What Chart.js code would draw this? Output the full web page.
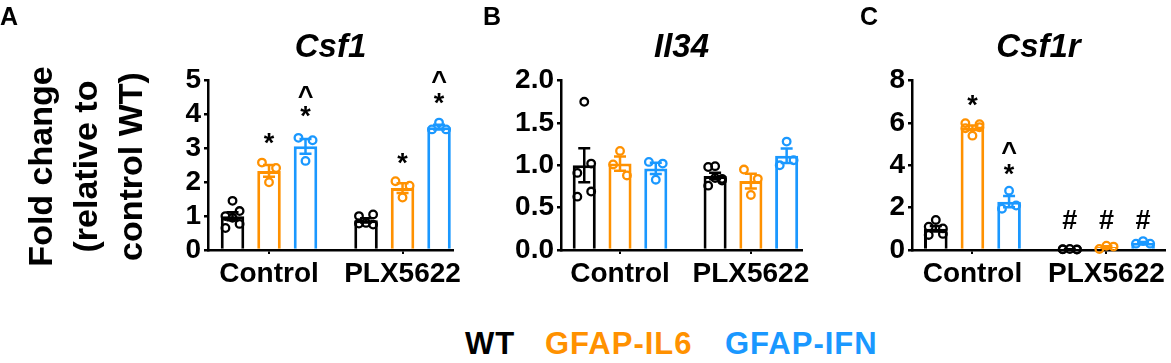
<!DOCTYPE html>
<html>
<head>
<meta charset="utf-8">
<script src="https://cdn.jsdelivr.net/npm/chart.js@4"></script>
<style>
  body { margin: 0; background: #fff; }
  #wrap { position: relative; width: 1171px; height: 363px; overflow: hidden; font-family: "Liberation Sans", Arial, sans-serif; }
  .panel { position: absolute; top: 0; height: 300px; }
  .letter { position: absolute; top: 3.5px; font-size: 25px; line-height: 25px; font-weight: bold; }
  #ytitle { position: absolute; left: -65px; top: 99px; width: 300px; height: 135px; font-size: 34px; line-height: 45px; font-weight: bold; text-align: center; transform: rotate(-90deg); white-space: nowrap; }
  .leg { position: absolute; top: 328px; font-size: 31px; line-height: 31px; font-weight: bold; letter-spacing: 1px; white-space: nowrap; }
</style>
</head>
<body>
<div id="wrap">
  <div class="panel" style="left:0;width:470px"><canvas id="csf1" width="470" height="300"></canvas></div>
  <div class="panel" style="left:470px;width:345px"><canvas id="il34" width="345" height="300"></canvas></div>
  <div class="panel" style="left:815px;width:356px"><canvas id="csf1r" width="356" height="300"></canvas></div>
  <div class="letter" style="left:0">A</div>
  <div class="letter" style="left:483px">B</div>
  <div class="letter" style="left:860px">C</div>
  <div id="ytitle">Fold change<br>(relative to<br>control WT)</div>
  <div class="leg" style="left:465px;color:#000">WT</div>
  <div class="leg" style="left:545px;color:#FF9100">GFAP-IL6</div>
  <div class="leg" style="left:725px;color:#1A98FF">GFAP-IFN</div>
</div>
<script>
// groepen en reeksen
const groups = ["Control", "PLX5622"];
const series = ["WT", "GFAP-IL6", "GFAP-IFN"];
const colors = ["#000000", "#FF9100", "#1A98FF"];

// losse meetpunten per reeks: [Control, PLX5622]
const csf1WT = [[0.65, 1.45, 1.15, 1.0, 0.77, 0.95], [1.0, 0.8, 1.05, 0.78, 0.75]];
const csf1IL6 = [[2.58, 2.0, 2.42], [2.03, 1.55, 1.9]];
const csf1IFN = [[3.31, 2.63, 3.24], [3.56, 3.76, 3.56]];

const il34WT = [[0.91, 1.75, 1.02, 0.63, 0.69], [0.98, 0.99, 0.84, 0.76, 0.82, 0.85]];
const il34IL6 = [[1.01, 1.17, 0.88], [0.95, 0.65, 0.84]];
const il34IFN = [[1.04, 0.83, 1.02], [1.0, 1.28, 1.06]];

const csf1rWT = [[1.1, 1.42, 1.02, 0.71, 0.76], [0.03, 0.05, 0.02, 0.04, 0.03]];
const csf1rIL6 = [[5.99, 5.4, 5.94, 5.75, 5.8], [0.05, 0.2, 0.16]];
const csf1rIFN = [[1.95, 2.8, 2.1], [0.3, 0.42, 0.3]];

// significantie-tekens: [reeks, groep, teken, hoogte]
const csf1Marks = [[1, 0, "*", 3.3], [2, 0, "*", 4.08], [2, 0, "^", 4.67], [1, 1, "*", 2.7], [2, 1, "*", 4.47], [2, 1, "^", 5.1]];
const il34Marks = [];
const csf1rMarks = [[1, 0, "*", 7.06], [2, 0, "*", 3.81], [2, 0, "^", 4.83], [0, 1, "#", 1.42], [1, 1, "#", 1.42], [2, 1, "#", 1.42]];

const FONT = '"Liberation Sans", Arial, sans-serif';
const spread = [-0.6, 0, 0.6, -0.6, 0.6, 0];

function mean(a) { return a.reduce((s, v) => s + v, 0) / a.length; }
function sem(a) {
  const m = mean(a);
  return Math.sqrt(a.reduce((s, v) => s + (v - m) * (v - m), 0) / (a.length - 1) / a.length);
}

// foutbalken, punten en tekens bovenop de staven
function extras(marks) {
  return {
    id: "extras",
    afterDatasetsDraw(chart) {
      const ctx = chart.ctx;
      const y = chart.scales.y;
      chart.data.datasets.forEach((ds, d) => {
        chart.getDatasetMeta(d).data.forEach((bar, i) => {
          const vals = ds.points[i];
          const m = mean(vals), e = sem(vals);
          const yt = y.getPixelForValue(m + e), yb = y.getPixelForValue(Math.max(m - e, 0));
          ctx.save();
          ctx.strokeStyle = ds.borderColor;
          ctx.lineWidth = 2.5;
          ctx.beginPath();
          ctx.moveTo(bar.x, yt); ctx.lineTo(bar.x, yb);
          ctx.moveTo(bar.x - 6, yt); ctx.lineTo(bar.x + 6, yt);
          ctx.moveTo(bar.x - 6, yb); ctx.lineTo(bar.x + 6, yb);
          ctx.stroke();
          ctx.lineWidth = 2.3;
          vals.forEach((v, k) => {
            const dx = spread[k % spread.length] * bar.width / 2;
            ctx.beginPath();
            ctx.arc(bar.x + dx, y.getPixelForValue(v), 3.8, 0, Math.PI * 2);
            ctx.stroke();
          });
          ctx.restore();
        });
      });
      ctx.save();
      ctx.font = "bold 27px " + FONT;
      ctx.fillStyle = "#000";
      ctx.textAlign = "center";
      ctx.textBaseline = "alphabetic";
      marks.forEach(([s, g, t, lvl]) => {
        const bar = chart.getDatasetMeta(s).data[g];
        const mt = ctx.measureText(t);
        const off = (mt.actualBoundingBoxAscent - mt.actualBoundingBoxDescent) / 2;
        ctx.fillText(t, bar.x, y.getPixelForValue(lvl) + off);
      });
      ctx.restore();
    }
  };
}

function makeChart(id, o) {
  new Chart(document.getElementById(id), {
    type: "bar",
    data: {
      datasets: series.map((name, s) => ({
        label: name,
        data: groups.map((g, i) => ({ x: i, y: mean(o.pts[s][i]) })),
        points: o.pts[s],
        backgroundColor: "#fff",
        borderColor: colors[s],
        borderWidth: 3,
        categoryPercentage: 0.82,
        barPercentage: 0.645
      }))
    },
    options: {
      responsive: false,
      animation: false,
      layout: { padding: { left: 0, right: o.padRight, top: 0, bottom: 0 } },
      plugins: {
        legend: { display: false },
        tooltip: { enabled: false },
        title: {
          display: true,
          text: o.title,
          fullSize: false,
          color: "#000",
          font: { family: FONT, size: 33, weight: "bold", style: "italic", lineHeight: 1.2 },
          padding: { top: 28, bottom: 13 }
        }
      },
      scales: {
        x: {
          type: "linear",
          min: o.xMin,
          max: o.xMax,
          offset: false,
          afterBuildTicks: (s) => { s.ticks = groups.map((g, i) => ({ value: i })); },
          afterFit: (s) => { s.height = 50; },
          grid: { display: true, offset: false, drawOnChartArea: false, drawTicks: true, tickLength: 4, color: "#000", lineWidth: 2 },
          border: { display: true, color: "#000", width: 2.5 },
          ticks: {
            autoSkip: false,
            maxRotation: 0,
            padding: 3,
            color: "#000",
            font: { family: FONT, size: 28, weight: "bold" },
            callback: (v) => groups[v]
          }
        },
        y: {
          min: 0,
          max: o.yMax,
          afterFit: (s) => { s.width = o.yWidth; },
          grid: { display: true, drawOnChartArea: false, drawTicks: true, tickLength: 4, color: "#000", lineWidth: 2.5 },
          border: { display: true, color: "#000", width: 2.5 },
          ticks: {
            stepSize: o.yStep,
            autoSkip: false,
            padding: 3,
            color: "#000",
            font: { family: FONT, size: 28, weight: "bold", lineHeight: 1 },
            callback: o.fmt
          }
        }
      }
    },
    plugins: [extras(o.marks)]
  });
}

makeChart("csf1", {
  title: "Csf1", pts: [csf1WT, csf1IL6, csf1IFN], marks: csf1Marks,
  yMax: 5, yStep: 1, fmt: (v) => v, xMin: -0.457, xMax: 1.378, yWidth: 208, padRight: 17
});
makeChart("il34", {
  title: "Il34", pts: [il34WT, il34IL6, il34IFN], marks: il34Marks,
  yMax: 2, yStep: 0.5, fmt: (v) => v.toFixed(1), xMin: -0.451, xMax: 1.391, yWidth: 91, padRight: 9
});
makeChart("csf1r", {
  title: "Csf1r", pts: [csf1rWT, csf1rIL6, csf1rIFN], marks: csf1rMarks,
  yMax: 8, yStep: 2, fmt: (v) => v, xMin: -0.451, xMax: 1.437, yWidth: 97, padRight: 6
});
</script>
</body>
</html>
